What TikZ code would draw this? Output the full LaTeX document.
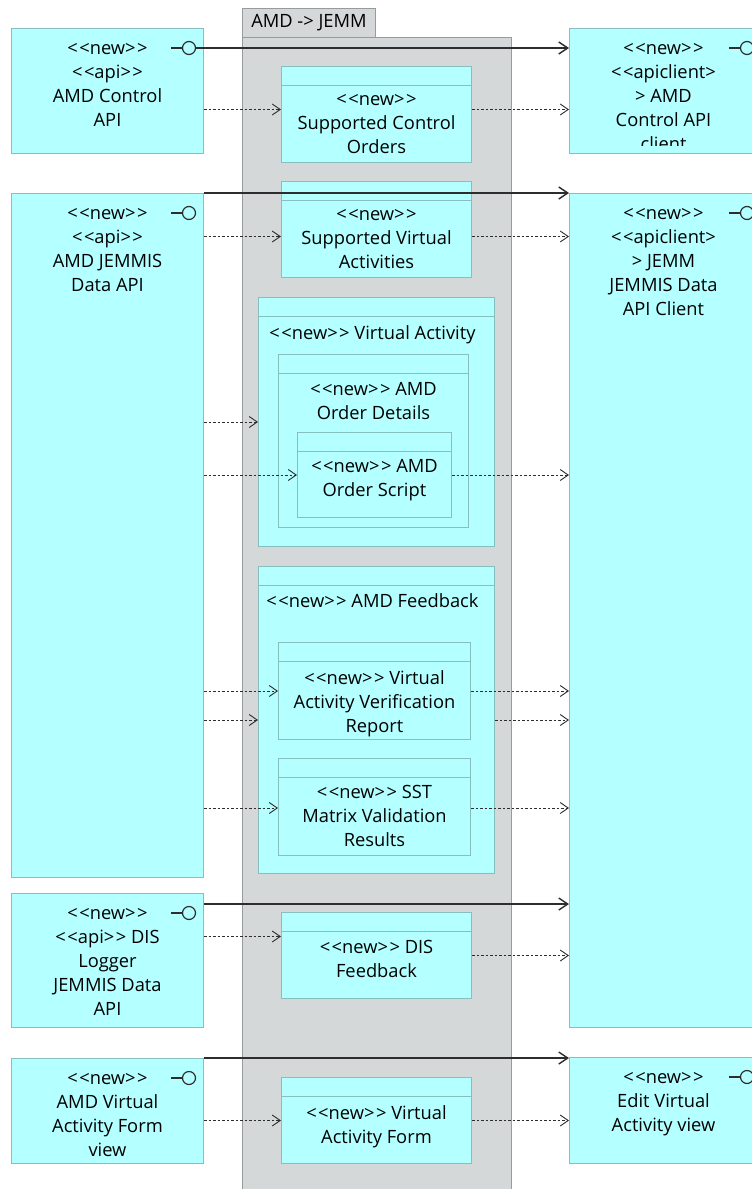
\documentclass[tikz,border=0pt]{standalone}
\usepackage{fontspec}
\setmainfont{Open Sans}
\usetikzlibrary{arrows.meta}
\definecolor{clsfill}{RGB}{180,255,255}
\definecolor{clsline}{RGB}{135,190,190}
\definecolor{pkgfill}{RGB}{212,216,216}
\definecolor{pkgline}{RGB}{150,155,155}
\definecolor{conn}{RGB}{45,45,45}
\newcommand{\stereo}[1]{<\kern1.5pt<#1>\kern1.5pt>}

\begin{document}
\begin{tikzpicture}[x=1pt,y=-1pt,
	cls/.style={draw=clsline,fill=clsfill,line width=1pt,anchor=north west,inner sep=0pt},
	pkg/.style={draw=pkgline,fill=pkgfill,line width=1pt,anchor=north west,inner sep=0pt},
	txt/.style={font=\fontsize{18.3}{24}\selectfont,align=center,inner sep=0pt,anchor=north,
		execute at begin node={\rule{0pt}{14pt}}},
	lolli/.style={circle,draw=conn,line width=1.2pt,minimum size=13pt,inner sep=0pt},
	dep/.style={draw=conn,line width=0.9pt,dash pattern=on 2.5pt off 2pt,-{Straight Barb[length=8pt,width=11pt]}},
	use/.style={draw=conn,line width=1.4pt,-{Straight Barb[length=9pt,width=12pt]}}]
	\clip (0,0) rectangle (752,1189);
	\fill[color=white] (0,0) rectangle (752,1189);
	\node[pkg,minimum width=133pt,minimum height=29pt,font=\fontsize{18.3}{24}\selectfont] (tab) at (242,8) {AMD -> JEMM};
	\node[pkg,minimum width=269pt,minimum height=1180pt] (pkgbody) at (242,37) {};

	\node[cls,minimum width=192pt,minimum height=125pt] (ctlapi) at (11,28) {};
	\node[cls,minimum width=192pt,minimum height=684pt] (dataapi) at (11,193) {};
	\node[cls,minimum width=192pt,minimum height=134pt] (disapi) at (11,893) {};
	\node[cls,minimum width=192pt,minimum height=105pt] (formview) at (11,1058) {};
	\node[cls,minimum width=192pt,minimum height=125pt] (ctlclient) at (569,28) {};
	\node[cls,minimum width=192pt,minimum height=834pt] (dataclient) at (569,193) {};
	\node[cls,minimum width=192pt,minimum height=106pt] (editview) at (569,1057) {};

	\node[cls,minimum width=190pt,minimum height=96pt] (sco) at (281,66) {};
	\node[cls,minimum width=190pt,minimum height=96pt] (sva) at (281,181) {};
	\node[cls,minimum width=236pt,minimum height=249pt] (va) at (258,297) {};
	\node[cls,minimum width=190pt,minimum height=173pt] (ordetails) at (278,354) {};
	\node[cls,minimum width=154pt,minimum height=85pt] (ordscript) at (297,432) {};
	\node[cls,minimum width=236pt,minimum height=307pt] (fb) at (258,566) {};
	\node[cls,minimum width=192pt,minimum height=97pt] (vavr) at (278,642) {};
	\node[cls,minimum width=192pt,minimum height=97pt] (sst) at (278,758) {};
	\node[cls,minimum width=190pt,minimum height=86pt] (disfb) at (281,912) {};
	\node[cls,minimum width=190pt,minimum height=86pt] (vaf) at (281,1077) {};
	\foreach \n in {sco,sva,va,ordetails,ordscript,fb,vavr,sst,disfb,vaf}
		\draw[color=clsline,line width=1pt] ([yshift=-19pt]\n.north west) -- ([yshift=-19pt]\n.north east);

	\node[txt] (ctlapi-t) at ([yshift=-15.5pt]ctlapi.north) {\stereo{new}\\\stereo{api}\\AMD Control\\API};
	\node[txt] (dataapi-t) at ([yshift=-15.5pt]dataapi.north) {\stereo{new}\\\stereo{api}\\AMD JEMMIS\\Data API};
	\node[txt] (disapi-t) at ([yshift=-15.5pt]disapi.north) {\stereo{new}\\\stereo{api} DIS\\Logger\\JEMMIS Data\\API};
	\node[txt] (formview-t) at ([yshift=-15.5pt]formview.north) {\stereo{new}\\AMD Virtual\\Activity Form\\view};
	\begin{scope}
		\clip (ctlclient.north west) rectangle ([yshift=9pt]ctlclient.south east);
		\node[txt] (ctlclient-t) at ([xshift=-2pt,yshift=-15.5pt]ctlclient.north) {\stereo{new}\\<\kern1.5pt<apiclient>\\> AMD\\Control API\\client};
	\end{scope}
	\node[txt] (dataclient-t) at ([xshift=-2pt,yshift=-15.5pt]dataclient.north) {\stereo{new}\\<\kern1.5pt<apiclient>\\> JEMM\\JEMMIS Data\\API Client};
	\node[txt] (editview-t) at ([xshift=-2pt,yshift=-15.5pt]editview.north) {\stereo{new}\\Edit Virtual\\Activity view};

	\node[txt] (sco-t) at ([yshift=-28.5pt]sco.north) {\stereo{new}\\Supported Control\\Orders};
	\node[txt] (sva-t) at ([yshift=-28.5pt]sva.north) {\stereo{new}\\Supported Virtual\\Activities};
	\node[txt] (va-t) at ([xshift=-4pt,yshift=-28.5pt]va.north) {\stereo{new} Virtual Activity};
	\node[txt] (ordetails-t) at ([yshift=-28.5pt]ordetails.north) {\stereo{new} AMD\\Order Details};
	\node[txt] (ordscript-t) at ([yshift=-27.5pt]ordscript.north) {\stereo{new} AMD\\Order Script};
	\node[txt] (fb-t) at ([xshift=-4pt,yshift=-27.5pt]fb.north) {\stereo{new} AMD Feedback};
	\node[txt] (vavr-t) at ([yshift=-28.5pt]vavr.north) {\stereo{new} Virtual\\Activity Verification\\Report};
	\node[txt] (sst-t) at ([yshift=-27.5pt]sst.north) {\stereo{new} SST\\Matrix Validation\\Results};
	\node[txt] (disfb-t) at ([yshift=-28.5pt]disfb.north) {\stereo{new} DIS\\Feedback};
	\node[txt] (vaf-t) at ([yshift=-28.5pt]vaf.north) {\stereo{new} Virtual\\Activity Form};

	\foreach \n in {ctlapi,dataapi,disapi,formview,ctlclient,dataclient,editview} {
		\node[lolli] (\n-l) at ([xshift=-15pt,yshift=-20pt]\n.north east) {};
		\draw[color=conn,line width=1.2pt] (\n-l.west) -- ++(-11,0);
	}

	\draw[use] (ctlapi-l.east) -- (ctlapi-l.east -| ctlclient.west);
	\draw[use] (dataapi.north east) -- (dataclient.north west);
	\draw[use] ([yshift=-11pt]disapi.north east) -- ([yshift=-11pt]disapi.north east -| dataclient.west);
	\draw[use] (formview.north east) -- (formview.north east -| editview.west);

	\foreach \a/\b/\s in {ctlapi/sco/5,dataapi/sva/-7,dataapi/va/0,dataapi/ordscript/0,dataapi/vavr/0,dataapi/fb/0,dataapi/sst/-1,disapi/disfb/19,formview/vaf/0}
		\draw[dep] ([yshift=\s pt]\b.west -| \a.east) -- ([yshift=\s pt]\b.west);
	\foreach \b/\c/\s in {sco/ctlclient/5,sva/dataclient/-7,ordscript/dataclient/0,vavr/dataclient/0,fb/dataclient/0,sst/dataclient/-1,disfb/dataclient/0,vaf/editview/0}
		\draw[dep] ([yshift=\s pt]\b.east) -- ([yshift=\s pt]\b.east -| \c.west);
\end{tikzpicture}
\end{document}
